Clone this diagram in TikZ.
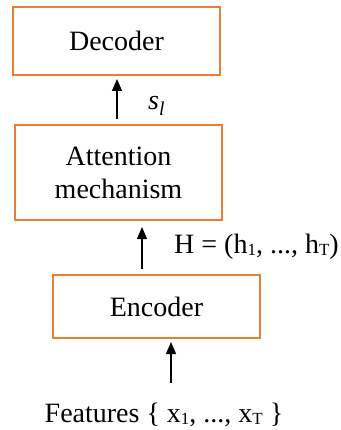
\documentclass[tikz,border=0pt]{standalone}
\usepackage{fontspec}
\setmainfont{Liberation Serif}
\usetikzlibrary{arrows.meta}
\definecolor{boxorange}{RGB}{237,125,49}
\newcommand{\smsub}[1]{\raisebox{-2pt}{\fontsize{17}{17}\selectfont #1}}
\begin{document}
\begin{tikzpicture}[x=1pt,y=-1pt,
  box/.style={draw=boxorange, line width=2pt, minimum width=207pt, inner sep=0pt, align=center, font=\fontsize{28}{33}\selectfont},
  arr/.style={-{Triangle[length=12pt,width=10pt]}, line width=1.3pt},
  lbl/.style={font=\fontsize{28}{33}\selectfont, inner sep=0pt}]
\useasboundingbox (0,0) rectangle (340,430);
\node[box, minimum height=68pt] (dec) at (116.5,41) {Decoder};
\node[box, minimum height=95pt] (att) at (118.5,172.5) {Attention\\mechanism};
\node[box, minimum height=63pt] (enc) at (156.5,306.5) {Encoder};
\node[lbl, anchor=base] (feat) at (164,422) {Features \{ x\smsub{1}, ..., x\smsub{T} \}};
\node[lbl, anchor=base west] (sl) at (148,110) {\textit{s}\textsubscript{\textit{l}}};
\node[lbl, anchor=base west] (hl) at (174,253) {H = (h\smsub{1}, ..., h\smsub{T})};
\coordinate (c1) at (117,0);
\coordinate (c2) at (142,0);
\coordinate (t3) at (171,383);
\draw[arr, shorten <=5pt, shorten >=3pt] (att.north -| c1) -- (dec.south -| c1);
\draw[arr, shorten <=5pt, shorten >=6pt] (enc.north -| c2) -- (att.south -| c2);
\draw[arr, shorten >=3pt] (t3) -- (enc.south -| t3);
\end{tikzpicture}
\end{document}
